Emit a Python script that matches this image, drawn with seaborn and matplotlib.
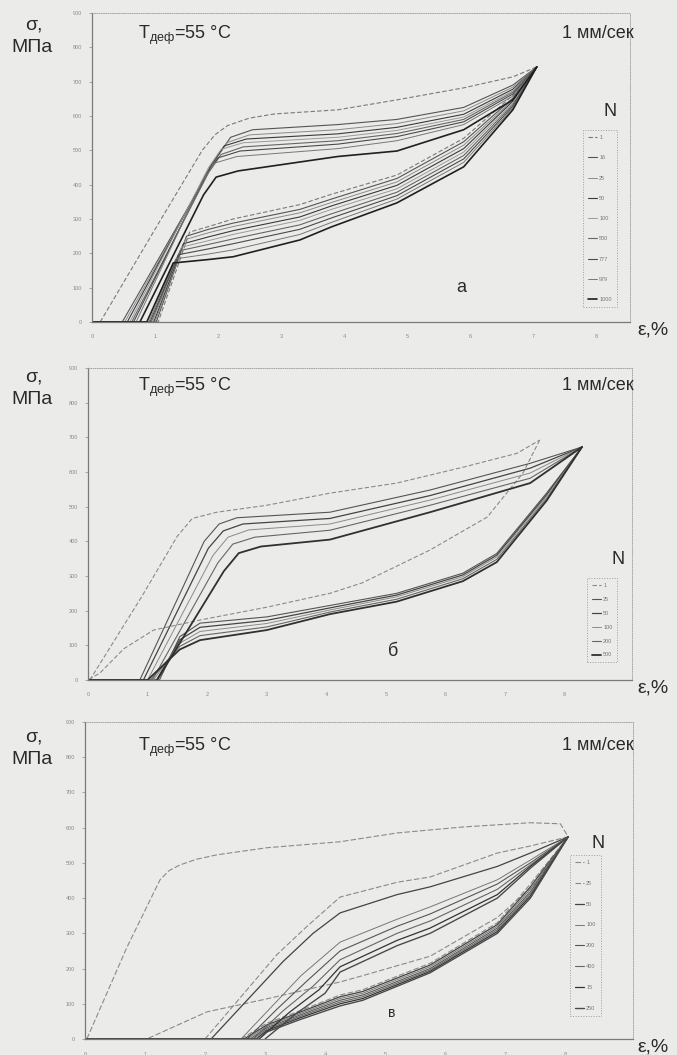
import numpy as np
import pandas as pd
import matplotlib.pyplot as plt
import seaborn as sns

W, H = 677, 1055

# ---------------- panel a ----------------
a_N = ['1', '16', '25', '50', '100', '500', '777', '979', '1000']
a_load_x = [
    [0.13, 1.0, 1.75, 1.95, 2.15, 2.5, 2.9, 3.9, 4.84, 5.9, 6.68, 7.06],
    [0.48, 2.00, 2.20, 2.55, 3.9, 4.84, 5.9, 6.68, 7.06],
    [0.52, 1.95, 2.15, 2.50, 3.9, 4.84, 5.9, 6.68, 7.06],
    [0.56, 1.90, 2.10, 2.45, 3.9, 4.84, 5.9, 6.68, 7.06],
    [0.60, 1.85, 2.05, 2.40, 3.9, 4.84, 5.9, 6.68, 7.06],
    [0.63, 1.85, 2.05, 2.40, 3.9, 4.84, 5.9, 6.68, 7.06],
    [0.66, 1.80, 2.00, 2.35, 3.9, 4.84, 5.9, 6.68, 7.06],
    [0.70, 1.75, 1.95, 2.30, 3.9, 4.84, 5.9, 6.68, 7.06],
    [0.76, 1.77, 1.97, 2.32, 3.9, 4.84, 5.9, 6.68, 7.06],
]
a_load_y = [
    [0, 270, 500, 545, 572, 594, 606, 618, 647, 682, 714, 743],
    [0, 485, 538, 560, 575, 590, 625, 690, 743],
    [0, 470, 523, 545, 560, 578, 615, 684, 743],
    [0, 460, 513, 533, 548, 567, 605, 678, 743],
    [0, 450, 503, 522, 538, 558, 597, 673, 743],
    [0, 435, 488, 510, 528, 549, 590, 669, 743],
    [0, 425, 478, 498, 518, 540, 583, 664, 743],
    [0, 410, 463, 482, 505, 528, 575, 658, 743],
    [0, 370, 422, 440, 482, 498, 560, 647, 743],
]
a_unl_x = [
    [7.06, 6.68, 5.9, 4.84, 3.8, 3.3, 2.24, 1.85, 1.55, 1.05, 0.0],
    [7.06, 6.68, 5.9, 4.84, 3.8, 3.3, 2.24, 1.85, 1.50, 1.02, 0.0],
    [7.06, 6.68, 5.9, 4.84, 3.8, 3.3, 2.24, 1.85, 1.48, 1.00, 0.0],
    [7.06, 6.68, 5.9, 4.84, 3.8, 3.3, 2.24, 1.85, 1.45, 0.98, 0.0],
    [7.06, 6.68, 5.9, 4.84, 3.8, 3.3, 2.24, 1.85, 1.42, 0.96, 0.0],
    [7.06, 6.68, 5.9, 4.84, 3.8, 3.3, 2.24, 1.85, 1.40, 0.94, 0.0],
    [7.06, 6.68, 5.9, 4.84, 3.8, 3.3, 2.24, 1.85, 1.37, 0.92, 0.0],
    [7.06, 6.68, 5.9, 4.84, 3.8, 3.3, 2.24, 1.85, 1.33, 0.90, 0.0],
    [7.06, 6.68, 5.9, 4.84, 3.8, 3.3, 2.24, 1.85, 1.29, 0.87, 0.0],
]
a_unl_y = [
    [743, 660, 535, 428, 372, 342, 300, 278, 262, 0, 0],
    [743, 652, 525, 418, 358, 328, 288, 270, 250, 0, 0],
    [743, 647, 515, 408, 348, 318, 278, 260, 240, 0, 0],
    [743, 643, 505, 398, 338, 306, 266, 248, 228, 0, 0],
    [743, 638, 495, 388, 328, 296, 255, 237, 218, 0, 0],
    [743, 633, 485, 378, 315, 283, 242, 226, 208, 0, 0],
    [743, 628, 475, 368, 303, 270, 228, 213, 196, 0, 0],
    [743, 623, 465, 358, 290, 255, 210, 198, 184, 0, 0],
    [743, 618, 452, 347, 277, 239, 190, 182, 172, 0, 0],
]

# ---------------- panel b ----------------
b_N = ['1', '25', '50', '100', '200', '500']
b_load_x = [
    [0.03, 0.9, 1.50, 1.75, 2.16, 3.0, 4.06, 5.18, 6.3, 7.2, 7.58],
    [0.87, 1.95, 2.20, 2.50, 4.06, 5.74, 7.42, 8.29],
    [0.93, 2.02, 2.27, 2.60, 4.06, 5.74, 7.42, 8.29],
    [1.00, 2.10, 2.35, 2.70, 4.06, 5.74, 7.42, 8.29],
    [1.08, 2.18, 2.43, 2.80, 4.06, 5.74, 7.42, 8.29],
    [1.16, 2.28, 2.53, 2.90, 4.06, 5.74, 7.42, 8.29],
]
b_load_y = [
    [0, 240, 415, 466, 484, 504, 539, 568, 614, 654, 692],
    [0, 400, 450, 468, 484, 548, 625, 672],
    [0, 380, 430, 450, 466, 532, 611, 672],
    [0, 360, 412, 433, 450, 519, 597, 672],
    [0, 338, 392, 412, 432, 504, 582, 672],
    [0, 314, 366, 385, 405, 484, 568, 672],
]
b_unl_x = [
    [7.58, 7.3, 6.7, 5.74, 4.6, 4.06, 3.0, 1.88, 1.1, 0.6, 0.2, 0.0],
    [8.29, 7.7, 6.86, 6.29, 5.18, 4.06, 3.0, 1.88, 1.54, 1.20, 0.0],
    [8.29, 7.7, 6.86, 6.29, 5.18, 4.06, 3.0, 1.88, 1.54, 1.15, 0.0],
    [8.29, 7.7, 6.86, 6.29, 5.18, 4.06, 3.0, 1.88, 1.54, 1.10, 0.0],
    [8.29, 7.7, 6.86, 6.29, 5.18, 4.06, 3.0, 1.88, 1.54, 1.05, 0.0],
    [8.29, 7.7, 6.86, 6.29, 5.18, 4.06, 3.0, 1.88, 1.54, 1.00, 0.0],
]
b_unl_y = [
    [692, 597, 470, 375, 280, 250, 210, 173, 144, 90, 20, 0],
    [672, 540, 365, 308, 250, 215, 182, 164, 125, 0, 0],
    [672, 535, 360, 303, 245, 208, 172, 152, 116, 0, 0],
    [672, 530, 355, 298, 240, 202, 163, 140, 106, 0, 0],
    [672, 524, 348, 292, 233, 196, 153, 128, 97, 0, 0],
    [672, 518, 340, 285, 226, 190, 144, 115, 88, 0, 0],
]

# ---------------- panel c ----------------
c_N = ['1', '25', '50', '100', '200', '400', '15', '250']
c_load_x = [
    [0.03, 0.7, 1.25, 1.40, 1.58, 1.85, 2.2, 3.03, 4.25, 5.2, 6.3, 7.42, 7.92, 8.05],
    [2.0, 2.6, 3.2, 3.7, 4.25, 5.2, 5.75, 6.87, 7.42, 8.05],
    [2.1, 2.7, 3.3, 3.8, 4.25, 5.2, 5.75, 6.87, 7.42, 8.05],
    [2.6, 3.1, 3.6, 4.25, 5.2, 5.75, 6.87, 7.42, 8.05],
    [2.7, 3.2, 3.7, 4.25, 5.2, 5.75, 6.87, 7.42, 8.05],
    [2.8, 3.3, 3.8, 4.25, 5.2, 5.75, 6.87, 7.42, 8.05],
    [2.9, 3.4, 3.9, 4.25, 5.2, 5.75, 6.87, 7.42, 8.05],
    [3.0, 3.5, 4.0, 4.25, 5.2, 5.75, 6.87, 7.42, 8.05],
]
c_load_y = [
    [0, 261, 452, 478, 494, 510, 523, 543, 560, 585, 602, 614, 611, 574],
    [0, 120, 240, 320, 403, 445, 460, 528, 548, 574],
    [0, 110, 220, 300, 358, 410, 432, 490, 528, 574],
    [0, 90, 180, 275, 340, 375, 452, 508, 574],
    [0, 85, 165, 250, 320, 355, 440, 500, 574],
    [0, 80, 150, 225, 300, 335, 425, 494, 574],
    [0, 75, 140, 205, 280, 315, 410, 490, 574],
    [0, 70, 130, 190, 265, 300, 400, 485, 574],
]
c_unl_x = [
    [8.05, 7.5, 6.87, 5.75, 4.63, 4.25, 3.03, 2.03, 1.03, 0.0],
    [8.05, 7.42, 6.87, 5.75, 4.63, 4.25, 3.58, 3.03, 2.60, 0.0],
    [8.05, 7.42, 6.87, 5.75, 4.63, 4.25, 3.58, 3.03, 2.65, 0.0],
    [8.05, 7.42, 6.87, 5.75, 4.63, 4.25, 3.58, 3.03, 2.70, 0.0],
    [8.05, 7.42, 6.87, 5.75, 4.63, 4.25, 3.58, 3.03, 2.75, 0.0],
    [8.05, 7.42, 6.87, 5.75, 4.63, 4.25, 3.58, 3.03, 2.80, 0.0],
    [8.05, 7.42, 6.87, 5.75, 4.63, 4.25, 3.58, 3.03, 2.85, 0.0],
    [8.05, 7.42, 6.87, 5.75, 4.63, 4.25, 3.58, 3.03, 2.90, 0.0],
]
c_unl_y = [
    [574, 440, 345, 235, 180, 162, 114, 77, 0, 0],
    [574, 440, 330, 215, 140, 125, 80, 45, 0, 0],
    [574, 432, 325, 210, 135, 120, 76, 40, 0, 0],
    [574, 425, 320, 205, 130, 115, 72, 36, 0, 0],
    [574, 418, 315, 200, 125, 110, 68, 32, 0, 0],
    [574, 412, 310, 196, 120, 105, 64, 28, 0, 0],
    [574, 406, 305, 192, 115, 100, 60, 24, 0, 0],
    [574, 400, 300, 188, 110, 94, 55, 20, 0, 0],
]

sns.set_theme(style='white')
plt.rcParams['font.family'] = ['Liberation Sans', 'DejaVu Sans']

bg = '#ebebea'
fig = plt.figure(figsize=(W / 100, H / 100), dpi=100, facecolor=bg)


def fx(x):
    return x / W


def fy(y):
    return 1 - y / H


def draw_panel(box, xmax, N, lx, ly, ux, uy, colors, widths, styles,
               leg_box, leg_space, n_pos, letter, letter_pos, letter_size, top_y):
    left, top, right, bottom = box
    ax = fig.add_axes([fx(left), fy(bottom), fx(right - left), (bottom - top) / H])
    ax.set_facecolor(bg)
    for i in range(len(N)):
        kw = dict(color=colors[i], lw=widths[i], linestyle=styles[i])
        sns.lineplot(x=lx[i], y=ly[i], sort=False, estimator=None, ax=ax, label=N[i], **kw)
        sns.lineplot(x=ux[i], y=uy[i], sort=False, estimator=None, ax=ax, label='_nolegend_', **kw)
    ax.set_xlim(0, xmax)
    ax.set_ylim(0, 900)
    ax.set_xticks(range(0, 9))
    ax.set_yticks(range(0, 901, 100))
    ax.tick_params(labelsize=4, colors='#8a8a8a', length=2, width=0.5, pad=7)
    ax.tick_params(axis='y', left=True, pad=5)
    ax.set_xlabel('')
    ax.set_ylabel('')
    for s in ['left', 'bottom']:
        ax.spines[s].set_color('#7a7a7a')
        ax.spines[s].set_linewidth(0.9)
    for s in ['top', 'right']:
        ax.spines[s].set_color('#9a9a9a')
        ax.spines[s].set_linewidth(0.6)
        ax.spines[s].set_linestyle(':')
    leg = ax.legend(loc='upper left', bbox_to_anchor=(fx(leg_box[0]), fy(leg_box[1])),
                    bbox_transform=fig.transFigure, fontsize=4, frameon=True,
                    handlelength=1.6, handletextpad=0.4, labelspacing=leg_space,
                    borderpad=0.9, fancybox=False, borderaxespad=0)
    fr = leg.get_frame()
    fr.set_facecolor(bg)
    fr.set_edgecolor('#8a8a8a')
    fr.set_linestyle(':')
    fr.set_linewidth(0.7)
    for t in leg.get_texts():
        t.set_color('#777777')

    # texts
    fig.text(fx(34), fy(top_y - 8), 'σ,', fontsize=14, ha='center', va='center', color='#2a2a2a')
    fig.text(fx(32), fy(top_y + 15), 'МПа', fontsize=14, ha='center', va='center', color='#2a2a2a')
    fig.text(fx(138), fy(top_y + 2), r'T$_{\mathregular{деф}}$=55 °C', fontsize=13,
             ha='left', va='center', color='#2a2a2a')
    fig.text(fx(634), fy(top_y), '1 мм/сек', fontsize=13, ha='right', va='center', color='#2a2a2a')
    fig.text(fx(n_pos[0]), fy(n_pos[1]), 'N', fontsize=13, ha='center', va='center', color='#2a2a2a')
    fig.text(fx(letter_pos[0]), fy(letter_pos[1]), letter, fontsize=letter_size,
             ha='center', va='center', color='#2a2a2a')
    fig.text(fx(653), fy(bottom + 8), 'ε,%', fontsize=14, ha='center', va='center', color='#2a2a2a')
    return ax


a_colors = ['#7a7a7a', '#555555', '#8a8a8a', '#3a3a3a', '#9a9a9a', '#666666', '#4a4a4a', '#777777', '#202020']
a_widths = [0.8, 0.8, 0.7, 0.8, 0.7, 0.8, 0.8, 0.7, 1.2]
a_styles = [(0, (4, 2)), '-', '-', '-', '-', '-', '-', '-', '-']
draw_panel((92, 13, 630, 322), 8.54, a_N, a_load_x, a_load_y, a_unl_x, a_unl_y,
           a_colors, a_widths, a_styles, (583, 130), 2.75, (610, 112), 'а', (461, 288), 13, 33)

b_colors = ['#8a8a8a', '#555555', '#444444', '#8a8a8a', '#666666', '#303030']
b_widths = [0.8, 0.8, 0.9, 0.7, 0.8, 1.3]
b_styles = [(0, (4, 2)), '-', '-', '-', '-', '-']
draw_panel((88, 368, 632, 680), 9.13, b_N, b_load_x, b_load_y, b_unl_x, b_unl_y,
           b_colors, b_widths, b_styles, (587, 578), 1.6, (618, 560), 'б', (393, 652), 13, 385)

c_colors = ['#8a8a8a', '#8a8a8a', '#444444', '#777777', '#555555', '#666666', '#333333', '#4a4a4a']
c_widths = [0.8, 0.8, 0.9, 0.7, 0.8, 0.8, 0.9, 1.0]
c_styles = [(0, (5, 2)), (0, (5, 2)), '-', '-', '-', '-', '-', '-']
draw_panel((85, 722, 633, 1039), 9.13, c_N, c_load_x, c_load_y, c_unl_x, c_unl_y,
           c_colors, c_widths, c_styles, (570, 855), 2.85, (598, 843), 'в', (392, 1013), 10, 745)

fig.savefig('out.png', dpi=100, facecolor=bg)
